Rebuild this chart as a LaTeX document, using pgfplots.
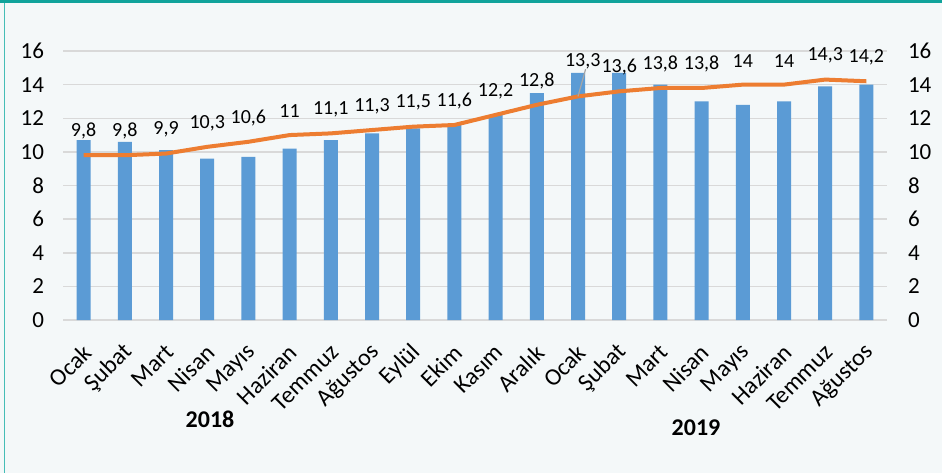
\documentclass[border=0pt]{standalone}
\usepackage{pgfplots}
\pgfplotsset{compat=1.18}
\usepackage{pgfplotstable}
\usepackage{fontspec}
\setmainfont{Carlito}
\definecolor{barblue}{HTML}{5B9BD5}
\definecolor{lineorange}{HTML}{ED7D31}
\definecolor{gridgray}{HTML}{D9D9D9}
\definecolor{bgcol}{HTML}{F4F8F9}
\definecolor{tealtop}{HTML}{10A39B}
\definecolor{tealside}{HTML}{45BDB6}
\definecolor{leader}{HTML}{A6A6A6}

\pgfplotstableread{
x y
0 10.7
1 10.6
2 10.1
3 9.6
4 9.7
5 10.2
6 10.7
7 11.1
8 11.4
9 11.6
10 12.2
11 13.5
12 14.7
13 14.7
14 14.0
15 13.0
16 12.8
17 13.0
18 13.9
19 14.0
}\bartable

\pgfplotstableread{
x y lab
0 9.8 9,8
1 9.8 9,8
2 9.9 9,9
3 10.3 10,3
4 10.6 10,6
5 11 11
6 11.1 11,1
7 11.3 11,3
8 11.5 11,5
9 11.6 11,6
10 12.2 12,2
11 12.8 12,8
12 13.3 {}
13 13.6 13,6
14 13.8 13,8
15 13.8 13,8
16 14 14
17 14 14
18 14.3 14,3
19 14.2 14,2
}\linetable

\begin{document}
\begin{tikzpicture}
\fill[bgcol] (0,0) rectangle (471pt,236.5pt);
\fill[tealtop] (0,235pt) rectangle (471pt,236.5pt);
\fill[tealside] (2pt,0) rectangle (2.6pt,235pt);

\begin{axis}[
  at={(31.5pt,76.5pt)}, anchor=south west,
  scale only axis, width=412pt, height=134.5pt,
  xmin=-0.5, xmax=19.5, ymin=0, ymax=16,
  ytick={0,2,...,16},
  xtick={0,...,19},
  xticklabels={Ocak,Şubat,Mart,Nisan,Mayıs,Haziran,Temmuz,Ağustos,Eylül,Ekim,Kasım,Aralık,Ocak,Şubat,Mart,Nisan,Mayıs,Haziran,Temmuz,Ağustos},
  axis line style={draw=none},
  major tick length=0pt,
  ymajorgrids,
  grid style={draw=gridgray, line width=0.75pt},
  /pgf/number format/assume math mode=true,
  yticklabel style={font=\fontsize{11.5}{13}\selectfont, anchor=east, xshift=-6pt},
  xticklabel style={font=\fontsize{12}{14}\selectfont, xshift=2.6pt, yshift=-13.5pt, rotate=45, anchor=east, inner sep=1pt},
  clip=false,
]
\addplot[ybar, bar width=7pt, fill=barblue, draw=none] table[x=x, y=y] {\bartable};
\addplot[lineorange, line width=2pt, mark=none,
  nodes near coords,
  point meta=explicit symbolic,
  every node near coord/.style={anchor=center, inner sep=0pt, font=\fontsize{10}{12}\selectfont, text=black, yshift=12pt},
] table[x=x, y=y, meta=lab] {\linetable};
\addplot[draw=none, mark=none, point meta=y,
  nodes near coords={13,3},
  every node near coord/.style={anchor=center, inner sep=0pt, font=\fontsize{10}{12}\selectfont, text=black, xshift=2.4pt, yshift=17.5pt},
] coordinates {(12,13.3)};
\draw[leader, line width=0.6pt] (axis cs:12,13.3) -- ++(3.8pt,13.6pt);
\end{axis}

\begin{axis}[
  at={(31.5pt,76.5pt)}, anchor=south west,
  scale only axis, width=412pt, height=134.5pt,
  xmin=-0.5, xmax=19.5, ymin=0, ymax=16,
  ytick={0,2,...,16},
  hide x axis,
  yticklabel pos=right,
  axis line style={draw=none},
  major tick length=0pt,
  /pgf/number format/assume math mode=true,
  yticklabel style={font=\fontsize{11.5}{13}\selectfont, anchor=west, xshift=7pt},
]
\addplot[draw=none] coordinates {(0,0)};
\end{axis}

\node[font=\bfseries\fontsize{12}{14}\selectfont] at (105pt,27pt) {2018};
\node[font=\bfseries\fontsize{12}{14}\selectfont] at (348pt,22.5pt) {2019};

\pgfresetboundingbox
\path (0,0) rectangle (471pt,236.5pt);
\end{tikzpicture}
\end{document}
